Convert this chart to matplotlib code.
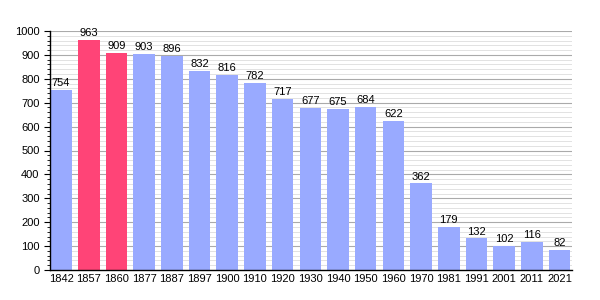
import matplotlib
matplotlib.use("Agg")
import matplotlib.pyplot as plt
from matplotlib.ticker import MultipleLocator

years = ["1842", "1857", "1860", "1877", "1887", "1897", "1900", "1910", "1920", "1930",
         "1940", "1950", "1960", "1970", "1981", "1991", "2001", "2011", "2021"]
population = [754, 963, 909, 903, 896, 832, 816, 782, 717, 677,
              675, 684, 622, 362, 179, 132, 102, 116, 82]
highlight = [False, True, True, False, False, False, False, False, False, False,
             False, False, False, False, False, False, False, False, False]

plt.rcParams['font.family'] = ['Liberation Sans', 'DejaVu Sans']

fig = plt.figure(figsize=(6, 3), dpi=100)
ax = fig.add_axes([50/600, 1-270/300, 522/600, 239/300])

blue = '#99aaff'
red = '#ff4477'
x = list(range(len(years)))
colors = [red if h else blue for h in highlight]
ax.bar(x, population, width=0.78, color=colors, zorder=2)
for xi, v in zip(x, population):
    ax.text(xi, v + 8, str(v), ha='center', va='bottom', fontsize=8, zorder=3)

ax.set_xlim(-0.4, len(years) - 1 + 0.45)
ax.set_ylim(0, 1000)
ax.set_xticks(x)
ax.set_xticklabels(years, fontsize=8)
ax.yaxis.set_major_locator(MultipleLocator(100))
ax.yaxis.set_minor_locator(MultipleLocator(20))
ax.tick_params(axis='y', which='major', labelsize=8, length=4, width=0.8)
ax.tick_params(axis='y', which='minor', length=2.5, width=0.6)
ax.tick_params(axis='x', length=0, pad=3)
ax.grid(axis='y', which='major', color='#aaaaaa', linewidth=0.8, zorder=0)
ax.grid(axis='y', which='minor', color='#dddddd', linewidth=0.6, zorder=0)
ax.set_axisbelow(True)
for s in ['top', 'right']:
    ax.spines[s].set_visible(False)
ax.spines['left'].set_linewidth(1.0)
ax.spines['bottom'].set_linewidth(1.0)

fig.savefig('out.png', dpi=100)
